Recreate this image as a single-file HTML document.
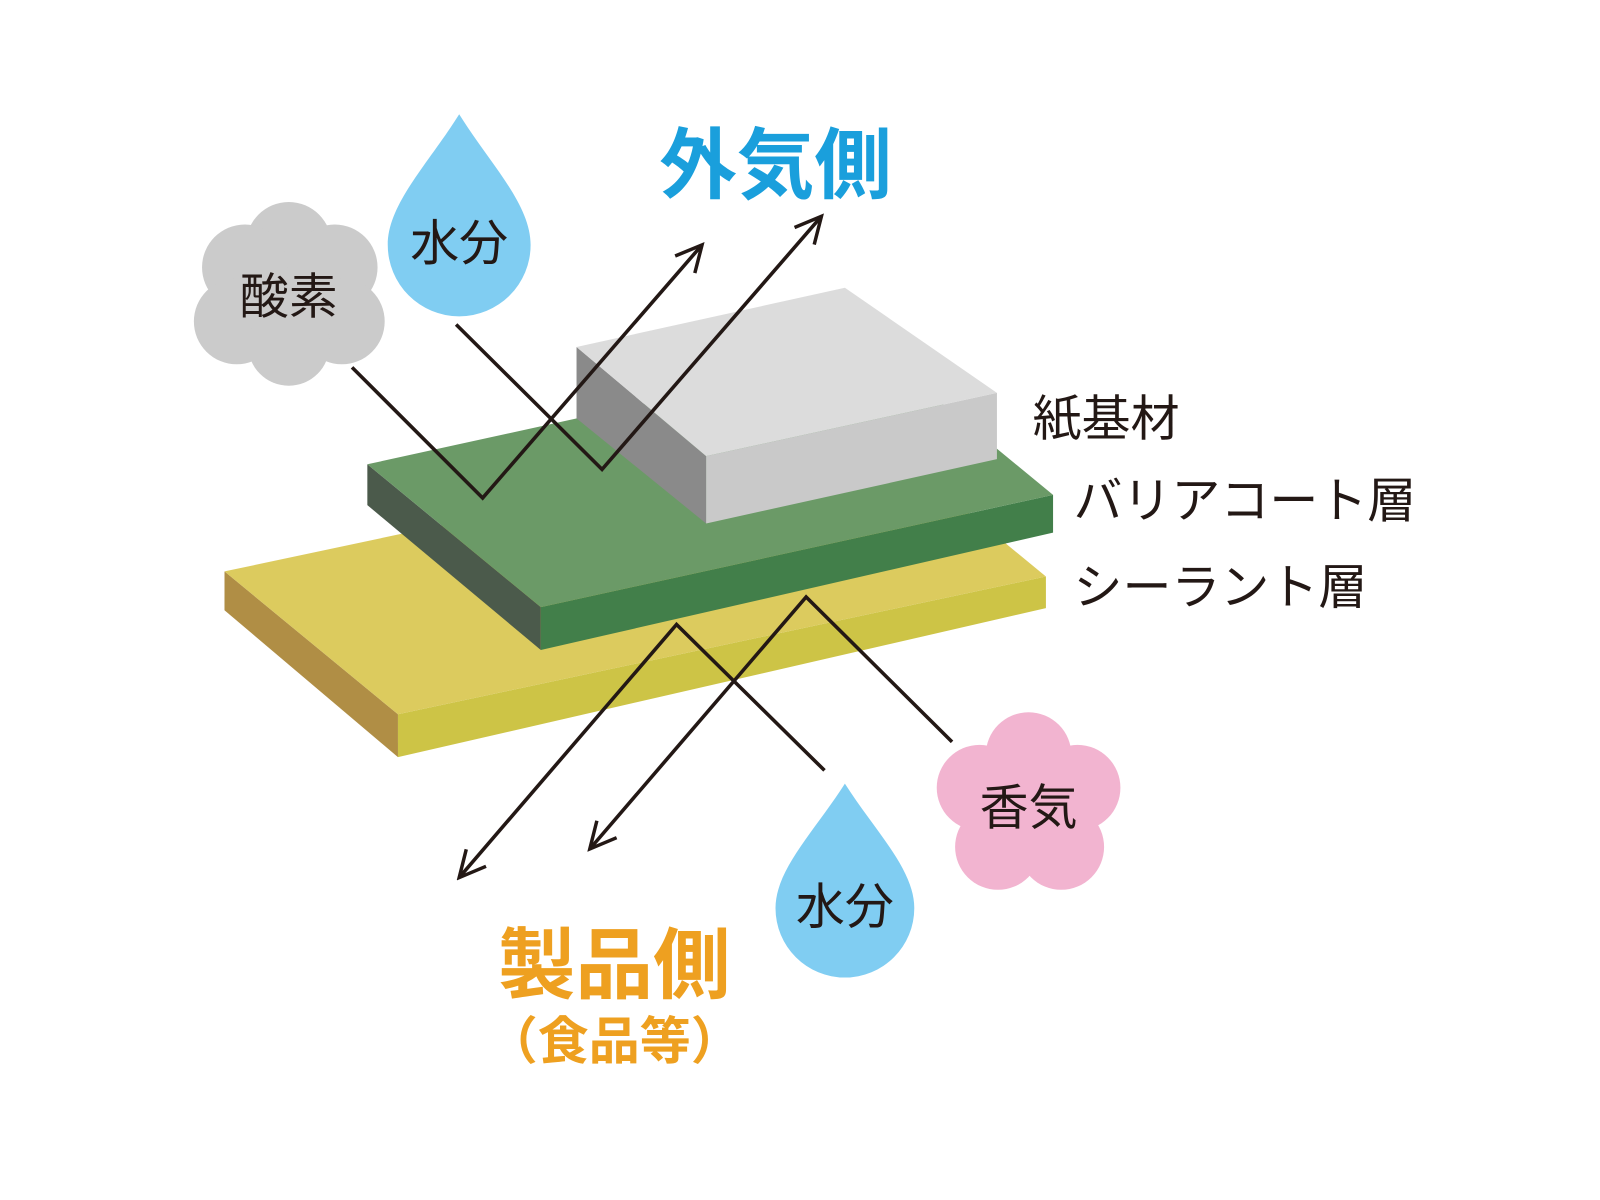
<!DOCTYPE html>
<html><head><meta charset="utf-8"><style>
html,body{margin:0;padding:0;background:#fff;width:1600px;height:1200px;overflow:hidden}
svg{display:block}
text{font-family:"Liberation Sans","Noto Sans CJK JP",sans-serif}
</style></head><body>
<svg width="1600" height="1200" viewBox="0 0 1568 1176" preserveAspectRatio="none" xmlns="http://www.w3.org/2000/svg">
<defs>
<marker id="ah" viewBox="0 0 20 20" refX="18" refY="10" markerWidth="34" markerHeight="34" markerUnits="userSpaceOnUse" orient="auto">
<path d="M3,2.5 L18,10 L3,17.5" fill="none" stroke="#231815" stroke-width="2"/>
</marker>
</defs>
<polygon points="220,560 390,700 390,742 220,598" fill="#b08e45"/>
<polygon points="390,700 1025,565 1025,596 390,742" fill="#cdc446"/>
<polygon points="220,560 855,425 1025,565 390,700" fill="#dccb5e"/>
<polygon points="360,455 530,595 530,637 360,495" fill="#4b5a4b"/>
<polygon points="530,595 1032,485 1032,522 530,637" fill="#427f4a"/>
<polygon points="360,455 862,345 1032,485 530,595" fill="#6b9a67"/>
<polygon points="565,340 692,447 692,513 565,410" fill="#8a8a8a"/>
<polygon points="692,447 977,385 977,450 692,513" fill="#c9c9c9"/>
<polygon points="565,340 828,282 977,385 692,447" fill="#dcdcdc"/>
<g fill="none" stroke="#231815" stroke-width="3.5">
<polyline points="345,360 473,488 688,240" marker-end="url(#ah)"/>
<polyline points="447,318 590,460 805,212" marker-end="url(#ah)"/>
<polyline points="933,727 790,585 578,832" marker-end="url(#ah)"/>
<polyline points="808,755 663,612 450,860" marker-end="url(#ah)"/>
</g>
<g fill="#cbcbcb">
<circle cx="283" cy="290" r="65"/>
<circle cx="283" cy="240" r="42"/>
<circle cx="240" cy="262" r="42"/>
<circle cx="328" cy="262" r="42"/>
<circle cx="232" cy="315" r="42"/>
<circle cx="335" cy="315" r="42"/>
<circle cx="283" cy="338" r="40"/>
</g>
<g fill="#f2b4d0">
<circle cx="1008" cy="790" r="55"/>
<circle cx="1008" cy="740" r="42"/>
<circle cx="960" cy="772" r="42"/>
<circle cx="1056" cy="772" r="42"/>
<circle cx="978" cy="830" r="42"/>
<circle cx="1040" cy="830" r="42"/>
</g>
<path d="M450,112 C480,160 520,200 520,240 A70,70 0 0 1 380,240 C380,200 420,160 450,112 Z" fill="#80cdf2"/>
<path d="M828,768 C858,815 896,852 896,890 A68,68 0 0 1 760,890 C760,852 798,815 828,768 Z" fill="#80cdf2"/>
<g fill="#231815" font-size="48">
<text x="450" y="255" text-anchor="middle">水分</text>
<text x="828" y="905" text-anchor="middle">水分</text>
<text x="283" y="307" text-anchor="middle">酸素</text>
<text x="1008" y="808" text-anchor="middle">香気</text>
<text x="1012" y="427">紙基材</text>
<text x="1052" y="507">バリアコート層</text>
<text x="1052" y="592">シーラント層</text>
</g>
<text x="760" y="188" text-anchor="middle" font-size="76" font-weight="bold" fill="#1a9fdc">外気側</text>
<text x="602" y="972" text-anchor="middle" font-size="76" font-weight="bold" fill="#eea020">製品側</text>
<text x="602" y="1038" text-anchor="middle" font-size="50" font-weight="bold" fill="#eea020">（食品等）</text>
</svg>
</body></html>
